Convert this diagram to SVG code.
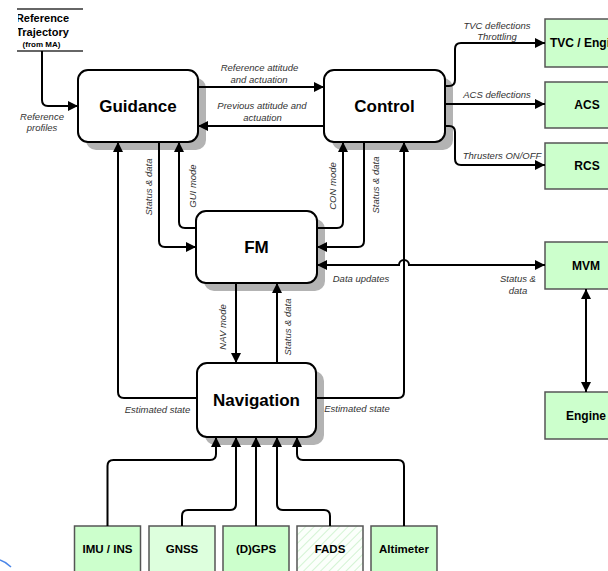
<svg xmlns="http://www.w3.org/2000/svg" width="608" height="571" viewBox="0 0 608 571">
<style>
.node{fill:#fff;stroke:#000;stroke-width:2}
.shadow{fill:#b3b3b3;stroke:none}
.big{font-family:"Liberation Sans",Arial,sans-serif;font-weight:bold;font-size:17px;fill:#000;text-anchor:middle}
.box{stroke:#555;stroke-width:1.5}
.bt{font-family:"Liberation Sans",Arial,sans-serif;font-weight:bold;font-size:12px;fill:#000;text-anchor:middle}
.st{font-family:"Liberation Sans",Arial,sans-serif;font-weight:bold;font-size:11.5px;fill:#000;text-anchor:middle}
.lbl{font-family:"Liberation Sans",Arial,sans-serif;font-style:italic;font-size:9.5px;fill:#333;text-anchor:middle}
.c{fill:none;stroke:#000;stroke-width:2}
</style>
<defs>
<marker id="a" viewBox="0 0 10 10" refX="10" refY="5" markerWidth="11" markerHeight="10" markerUnits="userSpaceOnUse" orient="auto-start-reverse">
<path d="M0,0 L10,5 L0,10 z" fill="#000"/>
</marker>
<pattern id="hatch" width="6" height="6" patternUnits="userSpaceOnUse" patternTransform="rotate(45)">
<rect width="6" height="6" fill="#fbfffb"/>
<line x1="0" y1="0" x2="0" y2="6" stroke="#c6efc6" stroke-width="1.5"/>
</pattern>
<clipPath id="clipL"><rect x="18" y="0" width="100" height="60"/></clipPath>
</defs>

<rect width="608" height="571" fill="#fff"/>

<g id="ref-trajectory">
<line x1="17" y1="9" x2="83" y2="9" stroke="#666" stroke-width="2"/>
<line x1="17" y1="51" x2="83" y2="51" stroke="#666" stroke-width="2"/>
<g clip-path="url(#clipL)">
<text x="42.5" y="21.7" font-family="Liberation Sans, Arial, sans-serif" font-weight="bold" font-size="11" text-anchor="middle">Reference</text>
<text x="42.5" y="36" font-family="Liberation Sans, Arial, sans-serif" font-weight="bold" font-size="11" text-anchor="middle">Trajectory</text>
<text x="41.5" y="46.5" font-family="Liberation Sans, Arial, sans-serif" font-weight="bold" font-size="8" text-anchor="middle">(from MA)</text>
</g>
</g>

<g id="guidance">
<rect class="shadow" x="86" y="78" width="120" height="72" rx="10"/>
<rect class="node" x="78" y="70" width="120" height="72" rx="10"/>
<text class="big" x="138" y="112">Guidance</text>
</g>

<g id="control">
<rect class="shadow" x="332" y="78" width="121" height="72" rx="10"/>
<rect class="node" x="324" y="70" width="121" height="72" rx="10"/>
<text class="big" x="384.5" y="112">Control</text>
</g>

<g id="fm">
<rect class="shadow" x="204" y="219" width="121" height="72" rx="10"/>
<rect class="node" x="196" y="211" width="121" height="72" rx="10"/>
<text class="big" x="256.5" y="253">FM</text>
</g>

<g id="navigation">
<rect class="shadow" x="205" y="371" width="119" height="74" rx="10"/>
<rect class="node" x="197" y="363" width="119" height="74" rx="10"/>
<text class="big" x="256.5" y="406">Navigation</text>
</g>

<g id="tvc">
<rect class="box" x="545" y="19" width="84" height="48" fill="#ccffcc"/>
<text class="bt" x="587" y="47">TVC / Engine</text>
</g>
<g id="acs">
<rect class="box" x="545" y="82" width="84" height="46" fill="#ccffcc"/>
<text class="bt" x="587" y="109">ACS</text>
</g>
<g id="rcs">
<rect class="box" x="545" y="143" width="84" height="46" fill="#ccffcc"/>
<text class="bt" x="587" y="170">RCS</text>
</g>
<g id="mvm">
<rect class="box" x="545" y="242" width="84" height="47" fill="#ccffcc"/>
<text class="bt" x="586" y="270">MVM</text>
</g>
<g id="engine">
<rect class="box" x="545" y="392" width="84" height="47" fill="#ccffcc"/>
<text class="bt" x="586" y="420">Engine</text>
</g>

<g id="imu">
<rect class="box" x="74.5" y="526" width="66" height="60" fill="#ccffcc"/>
<text class="st" x="107.5" y="553">IMU / INS</text>
</g>
<g id="gnss">
<rect class="box" x="149" y="526" width="66" height="60" fill="#ddffdd"/>
<text class="st" x="182" y="553">GNSS</text>
</g>
<g id="dgps">
<rect class="box" x="223" y="526" width="66" height="60" fill="#ccffcc"/>
<text class="st" x="256" y="553">(D)GPS</text>
</g>
<g id="fads">
<rect class="box" x="297" y="526" width="66" height="60" fill="url(#hatch)"/>
<text class="st" x="330" y="553">FADS</text>
</g>
<g id="altimeter">
<rect class="box" x="371" y="526" width="66" height="60" fill="#ccffcc"/>
<text class="st" x="404" y="553">Altimeter</text>
</g>

<g id="connectors">
<path class="c" d="M42,51 V100 Q42,106 48,106 H78" marker-end="url(#a)"/>
<path class="c" d="M198,87 H324" marker-end="url(#a)"/>
<path class="c" d="M324,126 H198" marker-end="url(#a)"/>
<path class="c" d="M445,86 H449 Q455,86 455,80 V49 Q455,43 461,43 H545" marker-end="url(#a)"/>
<path class="c" d="M445,104 H545" marker-end="url(#a)"/>
<path class="c" d="M445,126 H449 Q455,126 455,132 V159 Q455,165 461,165 H545" marker-end="url(#a)"/>
<path class="c" d="M197,398 H124 Q118,398 118,392 V142" marker-end="url(#a)"/>
<path class="c" d="M159,142 V241 Q159,247 165,247 H196" marker-end="url(#a)"/>
<path class="c" d="M196,228 H185 Q179,228 179,222 V142" marker-end="url(#a)"/>
<path class="c" d="M317,228 H337 Q343,228 343,222 V142" marker-end="url(#a)"/>
<path class="c" d="M364,142 V241 Q364,247 358,247 H317" marker-end="url(#a)"/>
<path class="c" d="M316,398 H398 Q404,398 404,392 V142" marker-end="url(#a)"/>
<path class="c" d="M317,265 H399 A5,5 0 0 1 409,265 H545" marker-start="url(#a)" marker-end="url(#a)"/>
<path class="c" d="M236,283 V363" marker-end="url(#a)"/>
<path class="c" d="M277,363 V283" marker-end="url(#a)"/>
<path class="c" d="M586,289 V392" marker-start="url(#a)" marker-end="url(#a)"/>
<path class="c" d="M107.5,526 V466 Q107.5,460 113.5,460 H210 Q216,460 216,454 V437" marker-end="url(#a)"/>
<path class="c" d="M182,526 V516 Q182,510 188,510 H230 Q236,510 236,504 V437" marker-end="url(#a)"/>
<path class="c" d="M256,526 V437" marker-end="url(#a)"/>
<path class="c" d="M330,526 V516 Q330,510 324,510 H283 Q277,510 277,504 V437" marker-end="url(#a)"/>
<path class="c" d="M404,526 V466 Q404,460 398,460 H303 Q297,460 297,454 V437" marker-end="url(#a)"/>
</g>

<g id="labels">
<text class="lbl" x="42" y="119.5">Reference</text>
<text class="lbl" x="42" y="131">profiles</text>
<text class="lbl" x="259.5" y="70.5">Reference attitude</text>
<text class="lbl" x="259" y="82.5">and actuation</text>
<text class="lbl" x="262" y="108.5">Previous attitude and</text>
<text class="lbl" x="262.5" y="120.5">actuation</text>
<text class="lbl" x="497" y="28.5">TVC deflections</text>
<text class="lbl" x="497" y="39.5">Throttling</text>
<text class="lbl" x="497" y="97.5">ACS deflections</text>
<text class="lbl" x="502" y="158.5">Thrusters ON/OFF</text>
<text class="lbl" transform="translate(151.5,187) rotate(-90)">Status &amp; data</text>
<text class="lbl" transform="translate(195.5,186) rotate(-90)">GUI mode</text>
<text class="lbl" transform="translate(335.5,186) rotate(-90)">CON mode</text>
<text class="lbl" transform="translate(378.5,185) rotate(-90)">Status &amp; data</text>
<text class="lbl" transform="translate(226,327) rotate(-90)">NAV mode</text>
<text class="lbl" transform="translate(291,327) rotate(-90)">Status &amp; data</text>
<text class="lbl" x="361" y="281.5">Data updates</text>
<text class="lbl" x="518" y="281.5">Status &amp;</text>
<text class="lbl" x="518" y="293.5">data</text>
<text class="lbl" x="157.5" y="412.5">Estimated state</text>
<text class="lbl" x="357" y="411.5">Estimated state</text>
</g>

<path d="M0,560 Q6,562 11,567" fill="none" stroke="#4a86e8" stroke-width="1.5"/>
</svg>
